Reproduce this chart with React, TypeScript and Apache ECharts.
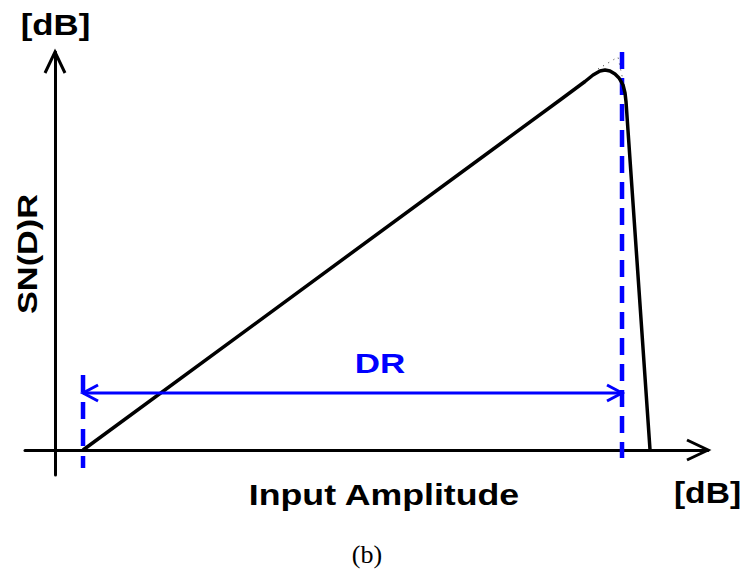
import React, { useEffect, useRef } from "react";
import * as echarts from "echarts";

// Axis extents (input amplitude in dB, SN(D)R in dB)
const xMin = -5;
const xMax = 108.83;
const yMin = -5;
const yMax = 79.6;

// Measured SN(D)R versus input amplitude
const inputAmp = [4.67, 84.17, 88.33, 89.67, 90.83, 91.67, 92.5, 93.33, 94.0, 94.67, 95.0, 95.17, 99.17];
const sndr = [0, 70, 73.7, 75, 75.8, 76, 75.8, 75.2, 74.4, 73, 71.4, 69.6, 0];

// Ideal (linear) continuation around the peak
const idealAmp = [90.5, 93.83, 95.0];
const idealSndr = [76.2, 78.6, 72.0];

// Dynamic range limits
const drLow = 4.67;
const drHigh = 94.5;
const drLevel = 11.4;
const drLowSpan = [15, -3.6];
const drHighSpan = [79.6, -1.6];

const BLUE = "#0000ff";
const FONT = "Liberation Sans";

const zip = (xs: number[], ys: number[]) => xs.map((x, i) => [x, ys[i]]);

function arrowHead(len: number, half: number, color: string, width: number) {
  return (_params: any, api: any) => {
    const [tx, ty] = api.coord([api.value(0), api.value(1)]);
    const a = (api.value(2) * Math.PI) / 180;
    const ux = Math.cos(a);
    const uy = -Math.sin(a);
    const px = -uy;
    const py = ux;
    const bx = tx - ux * len;
    const by = ty - uy * len;
    return {
      type: "polyline",
      shape: {
        points: [
          [bx + px * half, by + py * half],
          [tx, ty],
          [bx - px * half, by - py * half],
        ],
      },
      style: { stroke: color, lineWidth: width, fill: null, lineJoin: "miter" },
    };
  };
}

function label(
  text: string,
  x: number,
  y: number,
  size: number,
  stretch: number,
  color = "#000",
  extra: any = {}
) {
  return {
    type: "text",
    x,
    y,
    scaleX: stretch,
    ...extra,
    style: {
      text,
      x: 0,
      y: 0,
      fill: color,
      font: `bold ${size}px "${FONT}"`,
      align: "center",
      verticalAlign: "middle",
      textAlign: "center",
      textVerticalAlign: "middle",
    },
  };
}

export default function App() {
  const ref = useRef<HTMLDivElement>(null);

  useEffect(() => {
    if (!ref.current) return;
    const chart = echarts.init(ref.current, null, { renderer: "svg" });
    const hidden = { show: false };
    chart.setOption({
      animation: false,
      backgroundColor: "#fff",
      grid: { left: 25, right: 38, top: 52, bottom: 100 },
      xAxis: {
        type: "value",
        min: xMin,
        max: xMax,
        axisLine: { show: true, onZero: true, lineStyle: { color: "#000", width: 3 } },
        axisTick: hidden,
        axisLabel: hidden,
        splitLine: hidden,
      },
      yAxis: {
        type: "value",
        min: yMin,
        max: yMax,
        axisLine: { show: true, onZero: true, lineStyle: { color: "#000", width: 3 } },
        axisTick: hidden,
        axisLabel: hidden,
        splitLine: hidden,
      },
      series: [
        {
          type: "line",
          data: zip(idealAmp, idealSndr),
          symbol: "none",
          clip: false,
          lineStyle: { color: "#333", width: 1, type: [1, 5] },
          z: 2,
        },
        {
          type: "line",
          data: [
            [drLow, drLowSpan[0]],
            [drLow, drLowSpan[1]],
          ],
          symbol: "none",
          clip: false,
          lineStyle: { color: BLUE, width: 4.5, type: [17, 10] },
          z: 3,
        },
        {
          type: "line",
          data: [
            [drHigh, drHighSpan[0]],
            [drHigh, drHighSpan[1]],
          ],
          symbol: "none",
          clip: false,
          lineStyle: { color: BLUE, width: 4.5, type: [17, 9] },
          z: 3,
        },
        {
          type: "line",
          data: zip(inputAmp, sndr),
          symbol: "none",
          clip: false,
          lineStyle: { color: "#000", width: 3.5, join: "round" },
          z: 4,
        },
        {
          type: "line",
          data: [
            [drLow, drLevel],
            [drHigh, drLevel],
          ],
          symbol: "none",
          clip: false,
          lineStyle: { color: BLUE, width: 3 },
          z: 5,
        },
        {
          type: "custom",
          renderItem: arrowHead(15, 8, BLUE, 3),
          data: [
            [drLow, drLevel, 180],
            [drHigh, drLevel, 0],
          ],
          clip: false,
          z: 5,
        },
        {
          type: "custom",
          renderItem: arrowHead(21, 10, "#000", 3),
          data: [
            [xMax, 0, 0],
            [0, yMax, 90],
          ],
          clip: false,
          z: 5,
        },
      ],
      graphic: [
        label("[dB]", 55.5, 25, 30, 1.16),
        label("SN(D)R", 27.5, 254, 27, 1.27, "#000", { rotation: Math.PI / 2 }),
        label("Input Amplitude", 384, 495, 30, 1.19),
        label("[dB]", 707.5, 493, 30, 1.12),
        label("DR", 380, 363, 28, 1.25, BLUE),
        {
          type: "text",
          x: 367,
          y: 554,
          style: {
            text: "(b)",
            x: 0,
            y: 0,
            fill: "#000",
            font: '26px "Liberation Serif"',
            align: "center",
            verticalAlign: "middle",
            textAlign: "center",
            textVerticalAlign: "middle",
          },
        },
      ],
    });
    return () => chart.dispose();
  }, []);

  return (
    <div
      ref={ref}
      style={{ position: "fixed", left: 0, top: 0, width: 746, height: 575, background: "#fff" }}
    />
  );
}
